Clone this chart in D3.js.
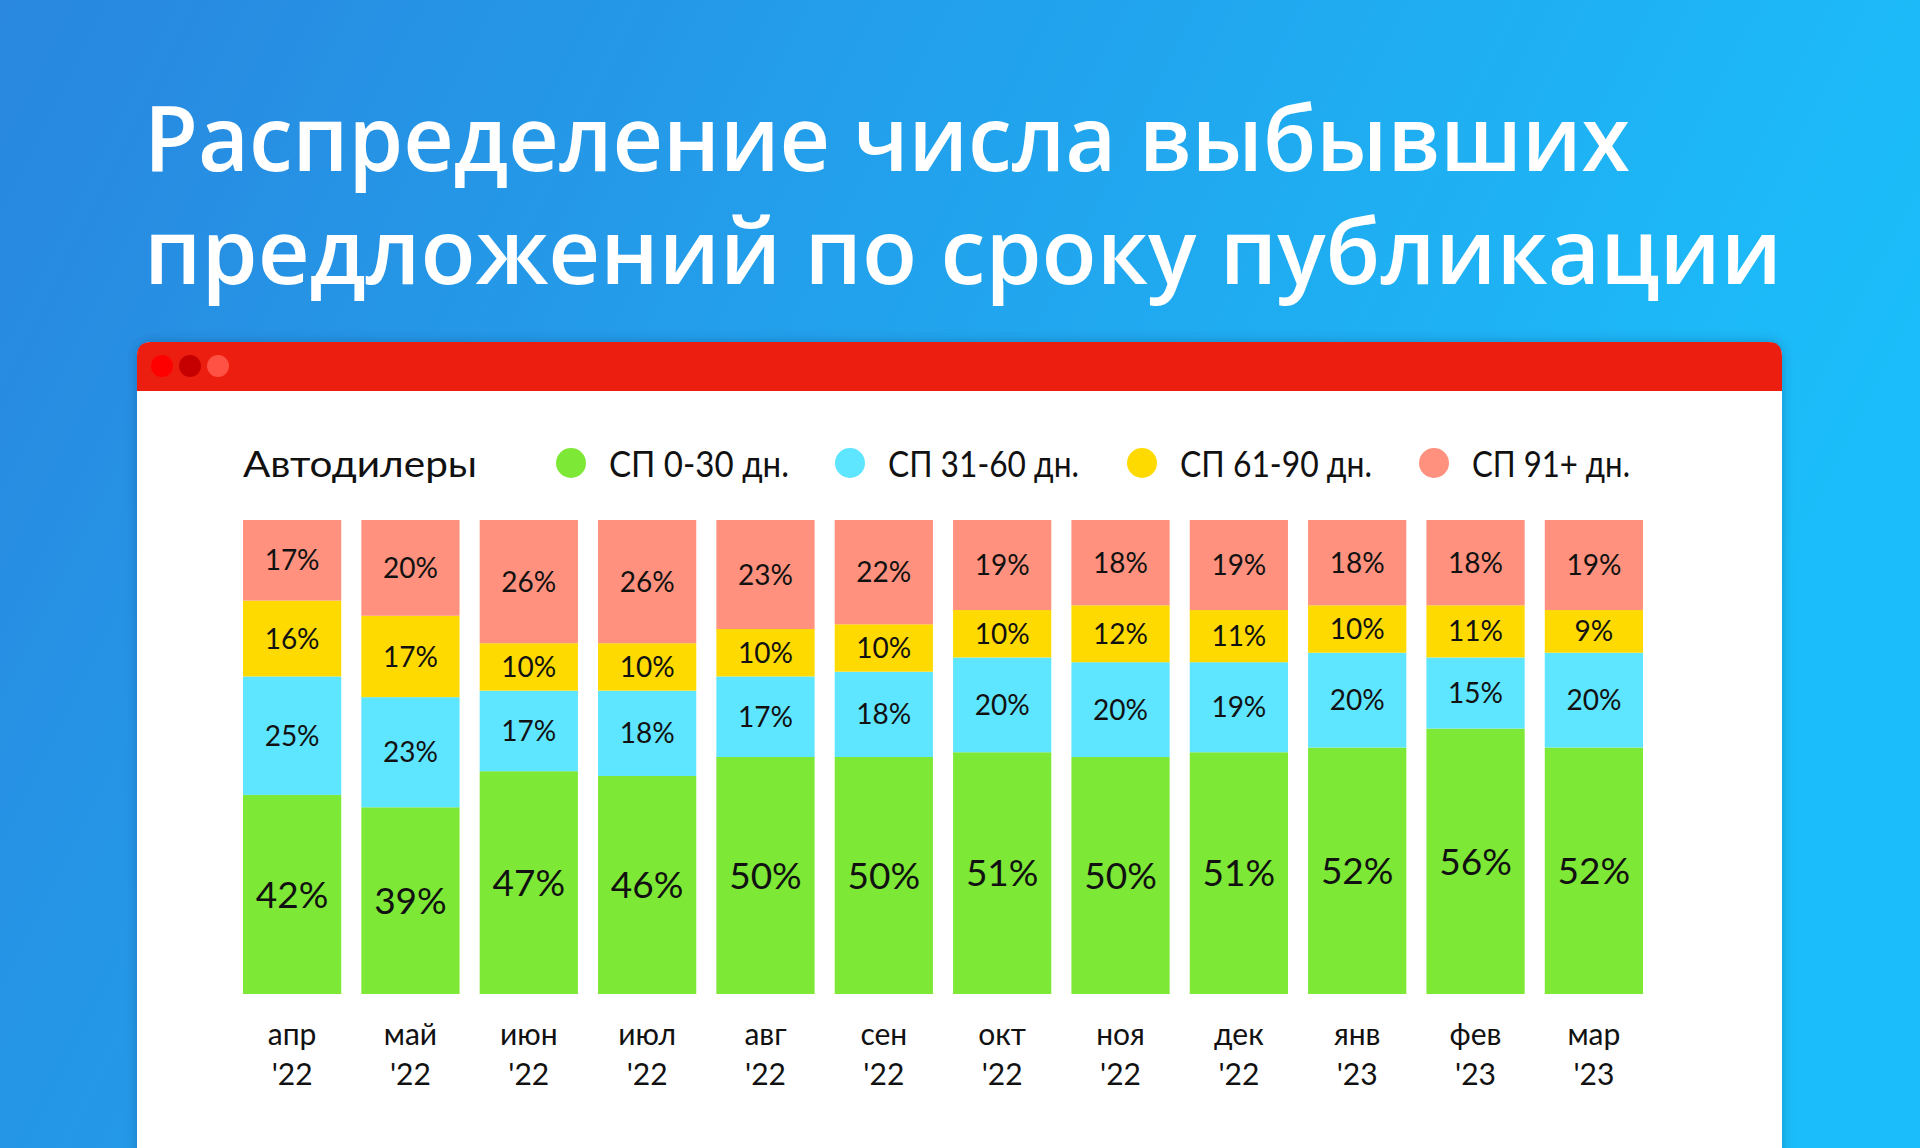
<!DOCTYPE html>
<html>
<head>
<meta charset="utf-8">
<script src="https://cdn.jsdelivr.net/npm/d3@7"></script>
<style>
  html, body { margin: 0; padding: 0; overflow: hidden; }
  svg { display: block; }
  text { font-family: "Lato", "Open Sans", sans-serif; }
</style>
</head>
<body>
<svg id="chart" width="1920" height="1148"></svg>
<script>
// data, share of offers by days on site
const months = ["апр", "май", "июн", "июл", "авг", "сен", "окт", "ноя", "дек", "янв", "фев", "мар"];
const years = ["'22", "'22", "'22", "'22", "'22", "'22", "'22", "'22", "'22", "'23", "'23", "'23"];
const seriesNames = ["СП 0-30 дн.", "СП 31-60 дн.", "СП 61-90 дн.", "СП 91+ дн."];
const sp0_30  = [42, 39, 47, 46, 50, 50, 51, 50, 51, 52, 56, 52];
const sp31_60 = [25, 23, 17, 18, 17, 18, 20, 20, 19, 20, 15, 20];
const sp61_90 = [16, 17, 10, 10, 10, 10, 10, 12, 11, 10, 11, 9];
const sp91    = [17, 20, 26, 26, 23, 22, 19, 18, 19, 18, 18, 19];
const titleLines = ["Распределение числа выбывших", "предложений по сроку публикации"];
const groupLabel = "Автодилеры";

const colors = ["#7de835", "#5ee5ff", "#ffda00", "#ff917e"];
const keys = ["a", "b", "c", "d"];

let rows = months.map(function (m, i) {
  return { month: m, year: years[i], a: sp0_30[i], b: sp31_60[i], c: sp61_90[i], d: sp91[i] };
});

let svg = d3.select("#chart");

// background
let defs = svg.append("defs");
let bg = defs.append("linearGradient").attr("id", "bg")
  .attr("x1", "0").attr("y1", "0").attr("x2", "1").attr("y2", "0.3");
bg.append("stop").attr("offset", "0").attr("stop-color", "#2987df");
bg.append("stop").attr("offset", "1").attr("stop-color", "#1bbefa");
let sh = defs.append("filter").attr("id", "shadow")
  .attr("x", "-5%").attr("y", "-5%").attr("width", "110%").attr("height", "110%");
sh.append("feDropShadow").attr("dx", 0).attr("dy", 0).attr("stdDeviation", 6)
  .attr("flood-color", "#0a3a70").attr("flood-opacity", 0.35);

svg.append("rect").attr("width", 1920).attr("height", 1148).attr("fill", "url(#bg)");

// title
let title = svg.append("g");
let titleWidths = [1486, 1638];
titleLines.forEach(function (t, i) {
  title.append("text")
    .attr("x", 144)
    .attr("y", 171 + i * 113)
    .attr("fill", "#fff")
    .style("font-family", "'Open Sans', sans-serif")
    .style("font-weight", 600)
    .style("font-size", "91px")
    .attr("textLength", titleWidths[i])
    .attr("lengthAdjust", "spacingAndGlyphs")
    .text(t);
});

// window card
let card = svg.append("g");
card.append("rect")
  .attr("x", 137).attr("y", 342).attr("width", 1645).attr("height", 900)
  .attr("rx", 14).attr("fill", "#fff").attr("filter", "url(#shadow)");
card.append("path")
  .attr("d", "M137,391 V356 Q137,342 151,342 H1768 Q1782,342 1782,356 V391 Z")
  .attr("fill", "#ec1e10");
card.selectAll("circle.dot").data(["#ff0000", "#c60000", "#ff5244"]).join("circle")
  .attr("class", "dot")
  .attr("cx", function (d, i) { return 162 + 28 * i; })
  .attr("cy", 366)
  .attr("r", 11)
  .attr("fill", function (d) { return d; });

// legend
let legend = svg.append("g").attr("class", "legend");
legend.append("text")
  .attr("x", 243).attr("y", 477)
  .style("font-size", "37px").attr("fill", "#111")
  .attr("textLength", 234).attr("lengthAdjust", "spacingAndGlyphs")
  .text(groupLabel);
let legendX = [571, 850, 1142, 1434];
let legendW = [180, 191, 192, 158];
seriesNames.forEach(function (name, i) {
  legend.append("circle")
    .attr("cx", legendX[i]).attr("cy", 463).attr("r", 15)
    .attr("fill", colors[i]);
  legend.append("text")
    .attr("x", legendX[i] + 38).attr("y", 477)
    .style("font-size", "37px").attr("fill", "#111")
    .attr("textLength", legendW[i]).attr("lengthAdjust", "spacingAndGlyphs")
    .text(name);
});

// scales
let x = d3.scaleBand().domain(months).range([243, 1643]).paddingInner(0.17);
let y = d3.scaleLinear().domain([0, 1]).range([994, 520]);

let stack = d3.stack().keys(keys).offset(d3.stackOffsetExpand);
let series = stack(rows);

let bars = svg.append("g").attr("class", "bars");
series.forEach(function (s, si) {
  let g = bars.append("g").attr("fill", colors[si]);
  g.selectAll("rect").data(s).join("rect")
    .attr("x", function (d) { return x(d.data.month); })
    .attr("y", function (d) { return y(d[1]); })
    .attr("width", x.bandwidth())
    .attr("height", function (d) { return y(d[0]) - y(d[1]); });

  bars.append("g").selectAll("text").data(s).join("text")
    .attr("x", function (d) { return x(d.data.month) + x.bandwidth() / 2; })
    .attr("y", function (d) { return (y(d[0]) + y(d[1])) / 2; })
    .attr("dy", "0.36em")
    .attr("text-anchor", "middle")
    .attr("fill", "#111")
    .style("font-size", si == 0 ? "37px" : "28px")
    .text(function (d) { return d.data[keys[si]] + "%"; });
});

// month axis, two lines per tick
let axis = svg.append("g").attr("class", "axis");
axis.selectAll("text.m").data(rows).join("text")
  .attr("class", "m")
  .attr("x", function (d) { return x(d.month) + x.bandwidth() / 2; })
  .attr("y", 1045)
  .attr("text-anchor", "middle")
  .attr("fill", "#111")
  .style("font-size", "30px")
  .text(function (d) { return d.month; });
axis.selectAll("text.yr").data(rows).join("text")
  .attr("class", "yr")
  .attr("x", function (d) { return x(d.month) + x.bandwidth() / 2; })
  .attr("y", 1085)
  .attr("text-anchor", "middle")
  .attr("fill", "#111")
  .style("font-size", "30px")
  .text(function (d) { return d.year; });
</script>
</body>
</html>
